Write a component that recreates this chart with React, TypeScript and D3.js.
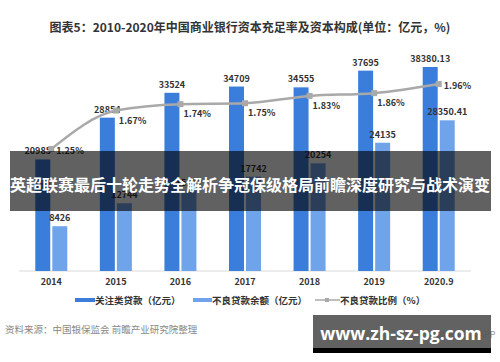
import { useRef, useEffect } from "react";
import * as d3 from "d3";

const years = ["2014", "2015", "2016", "2017", "2018", "2019", "2020.9"];
const watchLoans = [20985, 28854, 33524, 34709, 34555, 37695, 38380.13];
const npLoans = [8426, 12744, 15122, 17742, 20254, 24135, 28350.41];
const npRatio = [1.25, 1.67, 1.74, 1.75, 1.83, 1.86, 1.96];
const watchLabels = ["20985", "28854", "33524", "34709", "34555", "37695", "38380.13"];
const npLabels = ["8426", "12744", "15122", "17742", "20254", "24135", "28350.41"];
const legendNames = ["关注类贷款（亿元）", "不良贷款余额（亿元）", "不良贷款比例（%）"];

const TITLE = "图表5：2010-2020年中国商业银行资本充足率及资本构成(单位：亿元，%)";
const BANNER = "英超联赛最后十轮走势全解析争冠保级格局前瞻深度研究与战术演变";
const SOURCE = "资料来源：中国银保监会 前瞻产业研究院整理";
const SITE = "www.zh-sz-pg.com";

const DARK = "#3b7ddb";
const LIGHT = "#6fa4ea";
const LINE = "#a9a9a9";
const FONT = "'Noto Sans CJK SC', 'Noto Sans', sans-serif";

export default function App() {
  const ref = useRef<SVGSVGElement>(null);

  useEffect(() => {
    if (!ref.current) return;
    const W = 500, H = 362;
    const svg = d3.select(ref.current);
    svg.selectAll("*").remove();

    svg.append("rect").attr("width", W).attr("height", H).attr("fill", "#fff");

    // title
    svg.append("text").attr("x", 250).attr("y", 32).attr("text-anchor", "middle")
      .attr("font-size", 12).attr("font-weight", "bold").attr("fill", "#333").text(TITLE);

    const base = 271;
    const x = d3.scaleBand().domain(years).range([19, 471]).padding(0);
    const inner = d3.scaleBand().domain(["a", "b"]).range([0, 32]).paddingInner(0.12);
    const off = (x.bandwidth() - 32) / 2;
    const y = d3.scaleLinear().domain([0, 40000]).range([base, base - 212.6]);
    const y2 = d3.scaleLinear().domain([1.25, 1.96]).range([149, 84]);

    const g = svg.append("g");

    // axis line
    g.append("line").attr("x1", 19).attr("x2", 471).attr("y1", base).attr("y2", base)
      .attr("stroke", "#d9d9d9").attr("stroke-width", 1);

    years.forEach((yr, i) => {
      const x0 = (x(yr) ?? 0) + off;
      g.append("rect").attr("x", x0 + (inner("a") ?? 0)).attr("y", y(watchLoans[i]))
        .attr("width", inner.bandwidth()).attr("height", base - y(watchLoans[i])).attr("fill", DARK);
      g.append("rect").attr("x", x0 + (inner("b") ?? 0)).attr("y", y(npLoans[i]))
        .attr("width", inner.bandwidth()).attr("height", base - y(npLoans[i])).attr("fill", LIGHT);

      g.append("text").attr("x", x0 + (inner("a") ?? 0) + inner.bandwidth() / 2 - (i === 0 ? 5 : 0))
        .attr("y", y(watchLoans[i]) - 5).attr("text-anchor", "middle")
        .attr("font-size", 9).attr("font-weight", "bold").attr("fill", "#333").text(watchLabels[i]);
      g.append("text").attr("x", x0 + (inner("b") ?? 0) + inner.bandwidth() / 2)
        .attr("y", y(npLoans[i]) - 5).attr("text-anchor", "middle")
        .attr("font-size", 9).attr("font-weight", "bold").attr("fill", "#333").text(npLabels[i]);

      g.append("text").attr("x", (x(yr) ?? 0) + x.bandwidth() / 2).attr("y", 285)
        .attr("text-anchor", "middle").attr("font-size", 9).attr("font-weight", "bold")
        .attr("fill", "#333").text(yr);
    });

    // ratio line
    const cx = (d: string) => (x(d) ?? 0) + x.bandwidth() / 2;
    const line = d3.line<number>().x((_, i) => cx(years[i])).y((d) => y2(d)).curve(d3.curveMonotoneX);
    g.append("path").attr("d", line(npRatio)).attr("fill", "none")
      .attr("stroke", LINE).attr("stroke-width", 2.5);
    npRatio.forEach((v, i) => {
      g.append("rect").attr("x", cx(years[i]) - 3).attr("y", y2(v) - 3).attr("width", 6).attr("height", 6)
        .attr("fill", LINE);
      const side = i === 0 || i === npRatio.length - 1;
      g.append("text").attr("x", cx(years[i]) + (side ? 5 : 3)).attr("y", y2(v) + (side ? 5 : 13))
        .attr("font-size", 9).attr("font-weight", "bold").attr("fill", "#333").text(v.toFixed(2) + "%");
    });

    // banner
    svg.append("rect").attr("x", 10).attr("y", 151).attr("width", 481).attr("height", 60)
      .attr("fill", "#000").attr("opacity", 0.62);
    svg.append("text").attr("x", 250).attr("y", 191).attr("text-anchor", "middle")
      .attr("font-size", 16).attr("font-weight", "bold").attr("fill", "#fff").text(BANNER);

    // legend
    const lg = svg.append("g").attr("font-size", 9.5).attr("font-weight", "bold").attr("fill", "#333");
    lg.append("rect").attr("x", 75).attr("y", 298).attr("width", 20).attr("height", 4).attr("fill", DARK);
    lg.append("text").attr("x", 95).attr("y", 303.5).text(legendNames[0]);
    lg.append("rect").attr("x", 193).attr("y", 298).attr("width", 19).attr("height", 4).attr("fill", LIGHT);
    lg.append("text").attr("x", 212).attr("y", 303.5).text(legendNames[1]);
    lg.append("line").attr("x1", 315).attr("x2", 340).attr("y1", 300).attr("y2", 300)
      .attr("stroke", LINE).attr("stroke-width", 1.5);
    lg.append("rect").attr("x", 325).attr("y", 298).attr("width", 4).attr("height", 4).attr("fill", LINE);
    lg.append("text").attr("x", 340).attr("y", 303.5).text(legendNames[2]);

    // source
    svg.append("text").attr("x", 5).attr("y", 333).attr("font-size", 9.5).attr("fill", "#888").text(SOURCE);
    svg.append("text").attr("x", 417).attr("y", 338).attr("font-size", 9).attr("fill", "#999").text("©前瞻经济学人APP");

    // site box
    svg.append("rect").attr("x", 313).attr("y", 315).attr("width", 178).attr("height", 33)
      .attr("fill", "#555").attr("opacity", 0.92);
    svg.append("rect").attr("x", 313).attr("y", 348).attr("width", 178).attr("height", 5).attr("fill", "#000");
    svg.append("text").attr("x", 401).attr("y", 340).attr("text-anchor", "middle")
      .attr("font-family", "'Open Sans', 'DejaVu Sans', sans-serif")
      .attr("font-size", 17.5).attr("font-weight", "bold").attr("fill", "#fff").text(SITE);
  }, []);

  return (
    <svg ref={ref} width={500} height={362}
      style={{ position: "absolute", left: 0, top: 0, display: "block", fontFamily: FONT }} />
  );
}
